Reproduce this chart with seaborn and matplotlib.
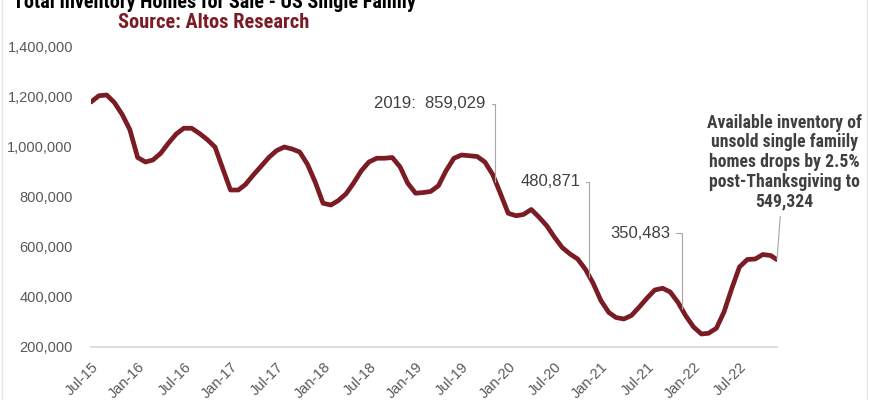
import pandas as pd
import matplotlib.pyplot as plt
from matplotlib import font_manager
from matplotlib.lines import Line2D
from matplotlib.ticker import FuncFormatter
import seaborn as sns

# monthly readings (1st of month), Jul-2015 .. Nov-2022, plus the post-Thanksgiving point
inventory = [
    1180000, 1205000, 1208000, 1178000, 1130000, 1070000,   # Jul-Dec 15
    958000, 940000, 948000, 975000, 1015000, 1052000,       # Jan-Jun 16
    1075000, 1075000, 1054000, 1030000, 1000000, 915000,    # Jul-Dec 16
    828000, 828000, 850000, 888000, 922000, 958000,         # Jan-Jun 17
    985000, 1000000, 992000, 980000, 930000, 860000,        # Jul-Dec 17
    775000, 768000, 785000, 812000, 855000, 905000,         # Jan-Jun 18
    940000, 955000, 955000, 958000, 920000, 855000,         # Jul-Dec 18
    815000, 818000, 822000, 845000, 905000, 955000,         # Jan-Jun 19
    968000, 965000, 962000, 940000, 890000, 815000,         # Jul-Dec 19
    735000, 725000, 730000, 750000, 720000, 685000,         # Jan-Jun 20
    640000, 598000, 572000, 552000, 510000, 455000,         # Jul-Dec 20
    385000, 338000, 318000, 312000, 326000, 360000,         # Jan-Jun 21
    395000, 428000, 435000, 420000, 378000, 325000,         # Jul-Dec 21
    280000, 252000, 255000, 275000, 340000, 435000,         # Jan-Jun 22
    520000, 550000, 552000, 570000, 566000,                 # Jul-Nov 22
    549324,                                                 # late Nov 22
]
dates = list(pd.date_range("2015-07-01", "2022-11-01", freq="MS")) + [pd.Timestamp("2022-11-26")]

tick_labels = ["Jul-15", "Jan-16", "Jul-16", "Jan-17", "Jul-17", "Jan-18", "Jul-18", "Jan-19",
               "Jul-19", "Jan-20", "Jul-20", "Jan-21", "Jul-21", "Jan-22", "Jul-22"]
tick_dates = pd.to_datetime(["2015-07-01", "2016-01-01", "2016-07-01", "2017-01-01", "2017-07-01",
                             "2018-01-01", "2018-07-01", "2019-01-01", "2019-07-01", "2020-01-01",
                             "2020-07-01", "2021-01-01", "2021-07-01", "2022-01-01", "2022-07-01"])

# (label, point date, point value, label date, label y)
callouts = [
    ("2019:  859,029", "2019-11-12", 859029, "2019-10-04", 1172000),
    ("480,871", "2020-11-16", 480871, "2020-10-11", 860000),
    ("350,483", "2021-11-16", 350483, "2021-10-01", 656000),
]
end_note = "Available inventory of\nunsold single famiily\nhomes drops by 2.5%\npost-Thanksgiving to\n549,324"

df = pd.DataFrame({"date": dates, "inventory": inventory})

sns.set_style("white")
plt.rcParams['font.family'] = ['Liberation Sans', 'DejaVu Sans']

# pick a narrow face if there is one
installed = {f.name for f in font_manager.fontManager.ttflist}
narrow = None
for name in ["Liberation Sans Narrow", "Roboto Condensed", "DejaVu Sans Condensed", "Open Sans Condensed"]:
    if name in installed:
        narrow = name
        break
if narrow:
    head_font = dict(family=[narrow, "DejaVu Sans"])
    title_size, sub_size, note_size = 14.5, 14.7, 12.7
else:
    head_font = dict(family=["DejaVu Sans"], stretch="condensed")
    title_size, sub_size, note_size = 10.5, 10.5, 9

line_red = "#7b1c24"
text_grey = "#404040"

fig = plt.figure(figsize=(8.7, 4), dpi=100)
ax = fig.add_axes([91 / 870, 53 / 400, (777 - 91) / 870, 300 / 400])

sns.lineplot(data=df, x="date", y="inventory", ax=ax, color=line_red, linewidth=3.4)

ax.set_xlim(pd.Timestamp("2015-07-01"), pd.Timestamp("2022-11-26"))
ax.set_ylim(200000, 1400000)
ax.set_yticks(range(200000, 1400001, 200000))
ax.yaxis.set_major_formatter(FuncFormatter(lambda v, p: f"{int(v):,}"))
ax.set_xticks(tick_dates)
ax.set_xticklabels(tick_labels, rotation=45, ha="right", rotation_mode="anchor")
ax.set_xlabel("")
ax.set_ylabel("")

for s in ["top", "right", "left"]:
    ax.spines[s].set_visible(False)
ax.spines["bottom"].set_color("#d9d9d9")
ax.spines["bottom"].set_linewidth(1.2)
ax.tick_params(axis="x", length=5, width=1, color="#d9d9d9", labelsize=10.5,
               labelcolor="#595959", pad=4)
ax.tick_params(axis="y", length=0, labelsize=10.5, labelcolor="#595959", pad=13)

for label, pdate, pval, tdate, ty in callouts:
    ax.annotate(label, xy=(pd.Timestamp(pdate), pval), xytext=(pd.Timestamp(tdate), ty),
                ha="right", va="center", fontsize=12, color=text_grey,
                arrowprops=dict(arrowstyle="-", color="#a6a6a6", lw=0.8,
                                connectionstyle="angle,angleA=0,angleB=90,rad=0",
                                shrinkA=2, shrinkB=0))

ax.annotate(end_note, xy=(pd.Timestamp("2022-11-26"), 549324),
            xytext=(pd.Timestamp("2022-12-25"), 940000), annotation_clip=False,
            ha="center", va="center", fontsize=note_size, fontweight="bold", color=text_grey,
            linespacing=1.12, **head_font,
            arrowprops=dict(arrowstyle="-", color="#a6a6a6", lw=0.8, shrinkA=2, shrinkB=0))

# title sits partly above the top edge, as in the original crop
fig.text(214 / 870, 1 - 3 / 400, "Total Inventory Homes for Sale - US Single Family",
         ha="center", va="center", fontsize=title_size, fontweight="bold", color="black",
         **head_font)
fig.text(214 / 870, 1 - 22 / 400, "Source: Altos Research",
         ha="center", va="center", fontsize=sub_size, fontweight="bold", color=line_red,
         **head_font)

# faint frame edges of the original picture
for fx in (2 / 870, 867 / 870):
    fig.add_artist(Line2D([fx, fx], [0, 1], transform=fig.transFigure, color="#e6e6e6", lw=1))

fig.savefig("out.png", dpi=100)
